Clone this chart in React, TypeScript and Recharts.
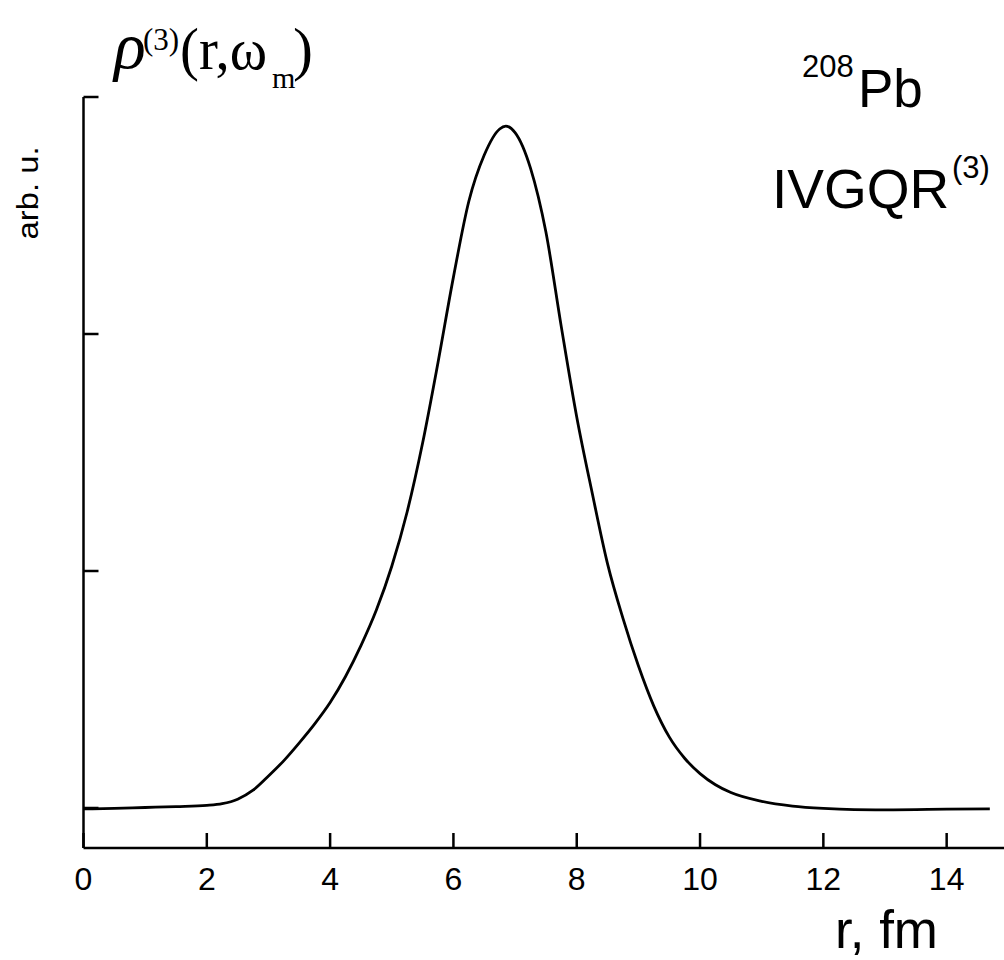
import React from 'react';
import { LineChart, Line, XAxis, YAxis } from 'recharts';

// radius r (fm)
const rValues = [
  0, 0.5, 1, 1.5, 2, 2.25, 2.5, 2.75, 3, 3.25, 3.5, 3.75, 4, 4.25, 4.5, 4.75,
  5, 5.25, 5.5, 5.75, 6, 6.25, 6.5, 6.75, 6.85, 7, 7.25, 7.5, 7.75, 8, 8.25,
  8.5, 8.75, 9, 9.25, 9.5, 9.75, 10, 10.25, 10.5, 11, 11.5, 12, 12.5, 13, 13.5,
  14, 14.7,
];
// transition density rho^(3)(r, omega_m), arb. u.
const rhoValues = [
  -0.004, -0.002, 0.002, 0.006, 0.011, 0.018, 0.037, 0.075, 0.135, 0.2, 0.275,
  0.355, 0.445, 0.555, 0.685, 0.835, 1.02, 1.25, 1.54, 1.88, 2.24, 2.56, 2.755,
  2.865, 2.877, 2.85, 2.7, 2.43, 2.03, 1.65, 1.33, 1.03, 0.8, 0.6, 0.43, 0.3,
  0.21, 0.145, 0.098, 0.065, 0.028, 0.008, -0.002, -0.007, -0.008, -0.007,
  -0.005, -0.004,
];
const xTicks = [0, 2, 4, 6, 8, 10, 12, 14];
const yTicks = [0, 1, 2, 3];

const data = rValues.map((r, i) => ({ r, rho: rhoValues[i] }));

const SANS = '"Liberation Sans", Arial, Helvetica, sans-serif';
const SERIF = '"Liberation Serif", "Times New Roman", serif';

const XTick = (props: any) => {
  const { x, y, payload } = props;
  return (
    <g>
      <line x1={x} x2={x} y1={y} y2={y - 15} stroke="#000" strokeWidth={2.5} />
      <text x={x} y={y + 42} textAnchor="middle" fontSize={32} fontFamily={SANS} fill="#000">
        {payload.value}
      </text>
    </g>
  );
};

const YTick = (props: any) => {
  const { x, y } = props;
  return <line x1={x} x2={x + 15} y1={y} y2={y} stroke="#000" strokeWidth={2.5} />;
};

export default function App() {
  return (
    <div style={{ position: 'absolute', left: 0, top: 0, width: 1004, height: 960, background: '#fff' }}>
      <LineChart
        width={1004}
        height={960}
        data={data}
        margin={{ top: 97, right: 0, bottom: 0, left: 0 }}
      >
        <XAxis
          dataKey="r"
          type="number"
          domain={[0, 14.93]}
          ticks={xTicks}
          allowDataOverflow
          height={112}
          tickSize={0}
          tickMargin={0}
          tickLine={false}
          tick={<XTick />}
          axisLine={{ stroke: '#000', strokeWidth: 2.5 }}
          interval={0}
        />
        <YAxis
          type="number"
          domain={[-0.1688, 3]}
          ticks={yTicks}
          allowDataOverflow
          width={83.5}
          tickSize={0}
          tickMargin={0}
          tickLine={false}
          tick={<YTick />}
          axisLine={{ stroke: '#000', strokeWidth: 2.5 }}
          interval={0}
        />
        <Line
          type="monotone"
          dataKey="rho"
          stroke="#000"
          strokeWidth={2.8}
          dot={false}
          isAnimationActive={false}
        />
        <text fontFamily={SERIF} fill="#000">
          <tspan x={114} y={68} fontSize={66} fontStyle="italic">ρ</tspan>
          <tspan x={143} y={50} fontSize={31}>(3)</tspan>
          <tspan x={180} y={69} fontSize={60} textLength={87} lengthAdjust="spacingAndGlyphs">(r,ω</tspan>
          <tspan x={272} y={88} fontSize={30}>m</tspan>
          <tspan x={293} y={69} fontSize={60}>)</tspan>
        </text>
        <text
          x={38}
          y={193}
          transform="rotate(-90 38 193)"
          textAnchor="middle"
          fontSize={29}
          fontFamily={SANS}
          fill="#000"
          textLength={93}
          lengthAdjust="spacingAndGlyphs"
        >
          arb. u.
        </text>
        <text fontFamily={SANS} fill="#000">
          <tspan x={802} y={77} fontSize={31}>208</tspan>
          <tspan x={858} y={107} fontSize={53}>Pb</tspan>
        </text>
        <text fontFamily={SANS} fill="#000">
          <tspan x={772} y={208} fontSize={55}>IVGQR</tspan>
          <tspan x={952} y={178} fontSize={31}>(3)</tspan>
        </text>
        <text
          x={835}
          y={948}
          fontSize={54}
          fontFamily={SANS}
          fill="#000"
          textLength={103}
          lengthAdjust="spacingAndGlyphs"
        >
          r, fm
        </text>
      </LineChart>
    </div>
  );
}
